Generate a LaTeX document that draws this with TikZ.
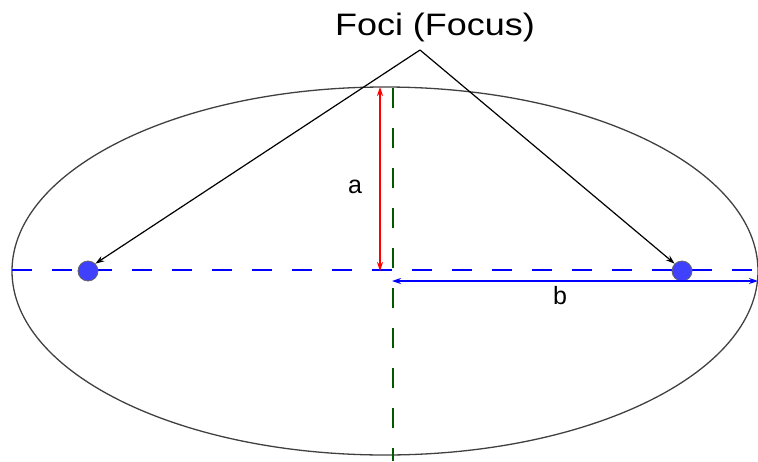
\documentclass[tikz,border=0pt]{standalone}
\usepackage{fontspec}
\setmainfont{Liberation Sans}
\usetikzlibrary{arrows.meta}
\begin{document}
\begin{tikzpicture}[x=1pt,y=-1pt,
  focusdot/.style={circle,fill=blue!75,draw=black!60,line width=0.8pt,minimum size=20pt,inner sep=0pt},
  pointer/.style={black,line width=1.2pt,-{Stealth[length=9pt,width=6pt]}},
  dim/.style={line width=1.3pt,{Stealth[length=9pt,width=6pt]}-{Stealth[length=9pt,width=6pt]}},
  axisdash/.style={line width=1.3pt,dash pattern=on 20pt off 20pt},
  lbl/.style={font=\fontsize{25}{27}\selectfont}]
\useasboundingbox (0,0) rectangle (758,461);
% ellipse
\draw[black!75,line width=1.3pt] (385,271) ellipse [x radius=373, y radius=184];
% axes
\draw[axisdash,blue] (12,270) -- (758,270);
\draw[axisdash,black!50!green!70!black] (393,88) -- (393,461);
% foci
\node[focusdot] (f1) at (88,271) {};
\node[focusdot] (f2) at (682,271) {};
% dimension arrows
\coordinate (atop) at (380,87);
\coordinate (abot) at (380,271);
\draw[dim,red] (abot) -- (atop);
\node[lbl] (la) at (355,187) {a};
\coordinate (bl) at (392,281);
\coordinate (br) at (758,281);
\draw[dim,blue] (bl) -- (br);
\node[lbl] (lb) at (560,296) {b};
% label and pointers
\node[font=\fontsize{31}{34}\selectfont,xscale=1.16,transform shape] (foci) at (435,27) {Foci (Focus)};
\coordinate (apex) at (420,50);
\draw[pointer] (apex) -- (f1.north east);
\draw[pointer] (apex) -- (f2.north west);
\end{tikzpicture}
\end{document}
